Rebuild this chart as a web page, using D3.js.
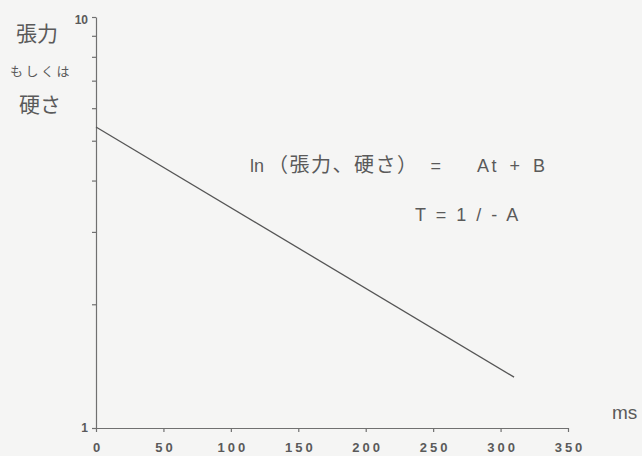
<!DOCTYPE html>
<html>
  <head>
    <meta charset="utf-8">
    <title>張力 もしくは 硬さ</title>
    <style type="text/css">
        body{
            margin: 0;
            background: #f5f5f4;
        }
        .axis path, .axis line{
            stroke: #707070;
            stroke-width: 1.2px;
        }
        .axis text{
            fill: #5a5a5a;
            font-family: "Liberation Sans", Arial, sans-serif;
            font-weight: bold;
            font-size: 13px;
            letter-spacing: 3px;
        }
        .jp{
            fill: #5a5a5a;
            font-family: "Noto Sans CJK JP", sans-serif;
        }
        .eq{
            fill: #5a5a5a;
            font-family: "Liberation Sans", Arial, sans-serif;
            font-size: 18px;
        }
    </style>
  </head>
  <body>
    <div id="chart"></div>
    <script src="https://cdn.jsdelivr.net/npm/d3@7"></script>
    <script>
        // data
        var times = [0, 310];            // ms
        var values = [5.4, 1.33];        // tension / stiffness (log axis)
        var xTicks = [0, 50, 100, 150, 200, 250, 300, 350];
        var yTicks = [1, 2, 3, 4, 5, 6, 7, 8, 9, 10];
        var yLabels = [1, 10];

        var width = 642, height = 456;

        var svg = d3.select("#chart").append("svg")
            .attr("width", width)
            .attr("height", height);

        var x = d3.scaleLinear().domain([0, 350]).range([96, 568]);
        var y = d3.scaleLog().domain([1, 10]).range([428, 17]);

        // x axis
        var xAxis = d3.axisBottom(x)
            .tickValues(xTicks)
            .tickSize(4)
            .tickSizeOuter(0)
            .tickPadding(11);
        svg.append("g")
            .attr("class", "axis")
            .attr("transform", "translate(0," + y(1) + ")")
            .call(xAxis)
            .selectAll("text")
            .attr("dx", "1.5px");

        // y axis, only 1 and 10 labelled
        var yAxis = d3.axisLeft(y)
            .tickValues(yTicks)
            .tickSize(4)
            .tickSizeOuter(0)
            .tickPadding(4)
            .tickFormat(function (d) { return yLabels.indexOf(d) >= 0 ? d : ""; });
        var gy = svg.append("g")
            .attr("class", "axis")
            .attr("transform", "translate(" + x(0) + ",0)")
            .call(yAxis);
        gy.selectAll("text").style("font-size", "12px").style("letter-spacing", "0px");
        gy.selectAll(".tick").filter(function (d) { return d === 10; })
            .select("text").attr("dy", "0.55em");

        // the decay line
        var pts = times.map(function (t, i) { return [t, values[i]]; });
        var line = d3.line()
            .x(function (d) { return x(d[0]); })
            .y(function (d) { return y(d[1]); });
        svg.append("path")
            .datum(pts)
            .attr("d", line)
            .attr("fill", "none")
            .attr("stroke", "#555")
            .attr("stroke-width", 1.3);

        // y axis title
        svg.append("text").attr("class", "jp")
            .attr("x", 16).attr("y", 41)
            .style("font-size", "21px")
            .text("張力");
        svg.append("text").attr("class", "jp")
            .attr("x", 10).attr("y", 76)
            .style("font-size", "13px")
            .style("letter-spacing", "2.5px")
            .text("もしくは");
        svg.append("text").attr("class", "jp")
            .attr("x", 19).attr("y", 112)
            .style("font-size", "21px")
            .text("硬さ");

        // x axis unit
        svg.append("text").attr("class", "eq")
            .attr("x", 612).attr("y", 419)
            .style("font-size", "19px")
            .text("ms");

        // formulas
        var f1 = svg.append("text").attr("class", "eq")
            .attr("x", 250).attr("y", 172);
        f1.append("tspan").text("ln");
        f1.append("tspan").attr("class", "jp").attr("dx", 4)
            .style("font-size", "20px").style("letter-spacing", "1.5px").text("（張力、硬さ）");
        f1.append("tspan").attr("dx", 12).text("=");
        f1.append("tspan").attr("dx", 36).style("letter-spacing", "2.5px").style("word-spacing", "3px").text("At + B");

        svg.append("text").attr("class", "eq")
            .attr("x", 415).attr("y", 221)
            .style("letter-spacing", "1.5px")
            .style("word-spacing", "2px")
            .text("T = 1 / - A");
    </script>
  </body>
</html>
